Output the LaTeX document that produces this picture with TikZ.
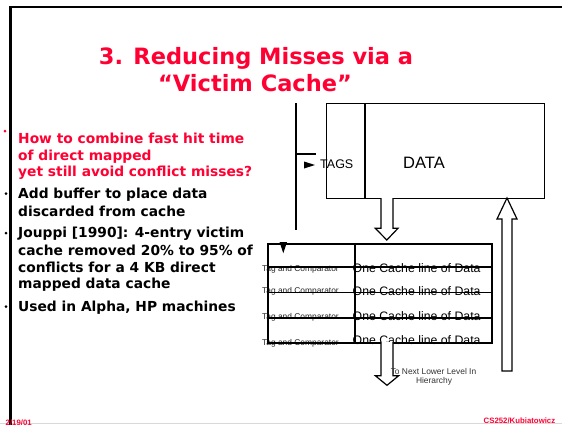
\documentclass[tikz,border=0pt]{standalone}
\usepackage{fontspec}
\setmainfont{DejaVu Sans}
\newfontfamily\arialfont{Liberation Sans}
\definecolor{slidered}{RGB}{255,0,51}
\begin{document}
\begin{tikzpicture}[x=1pt,y=-1pt,
  titletext/.style={anchor=base, inner sep=0, text=slidered, font=\fontsize{22.5}{27}\selectfont\bfseries},
  bodytext/.style={anchor=base west, inner sep=0, font=\fontsize{13.8}{16}\selectfont\bfseries},
  redtext/.style={bodytext, text=slidered},
  bulletdot/.style={circle, fill, inner sep=0, minimum size=3pt},
  frameline/.style={line width=2.6pt},
  boxline/.style={line width=1.3pt},
  rowline/.style={line width=1.6pt},
  hollow/.style={draw, line width=1.2pt, fill=white, line join=miter},
  smalltext/.style={anchor=base west, inner sep=0, font=\arialfont\fontsize{8.4}{9}\selectfont, text=black!85},
  celltext/.style={anchor=base west, inner sep=0, font=\arialfont\fontsize{12.3}{13}\selectfont},
  foottext/.style={anchor=base west, inner sep=0, text=slidered, font=\arialfont\fontsize{7.8}{8}\selectfont\bfseries}
]
\useasboundingbox (0,0) rectangle (562,424);
\clip (0,0) rectangle (562,424);
\fill[white] (0,0) rectangle (562,424);
\draw[black!15, line width=0.8pt] (0,423.6) -- (562,423.6);
% frame
\draw[frameline] (10.5,425) -- (10.5,7) -- (563,7);

% title
\node[titletext] (t1) at (256,64) {3. Reducing Misses via a};
\node[titletext] (t2) at (255,91.7) {“Victim Cache”};

% bullets
\node[bulletdot, fill=slidered] (b1) at (5,131) {};
\node[redtext] (l1) at (18,143.5) {How to combine fast hit time};
\node[redtext] (l2) at (18,160.5) {of direct mapped};
\node[redtext] (l3) at (18,176) {yet still avoid conflict misses?};
\node[bulletdot] (b2) at (6,193.5) {};
\node[bodytext] (l4) at (18,198) {Add buffer to place data};
\node[bodytext] (l5) at (18,216) {discarded from cache};
\node[bulletdot] (b3) at (6,233) {};
\node[bodytext] (l6) at (18,237) {Jouppi [1990]: 4-entry victim};
\node[bodytext] (l7) at (18,255) {cache removed 20\% to 95\% of};
\node[bodytext] (l8) at (18,272) {conflicts for a 4 KB direct};
\node[bodytext] (l9) at (18,288.5) {mapped data cache};
\node[bulletdot] (b4) at (6,306.5) {};
\node[bodytext] (l10) at (18,311) {Used in Alpha, HP machines};

% address bus
\coordinate (bustop) at (296,103);
\coordinate (busbot) at (296,230);
\coordinate (busbranch) at (296,154);
\coordinate (branchend) at (316,154);
\draw[line width=2pt] (bustop) -- (busbot);
\draw[line width=2pt] (busbranch) -- (branchend);
\fill (304,161.5) -- (315,165) -- (304,168.5) -- cycle;

% main cache
\node[draw, boxline, minimum width=218pt, minimum height=95pt, inner sep=0, anchor=north west] (cache) at (326,103) {};
\draw[boxline] (365,103) -- (365,198);
\node[anchor=base west, inner sep=0, font=\arialfont\fontsize{12.5}{13}\selectfont] (tags) at (320,168.3) {TAGS};
\node[anchor=base west, inner sep=0, font=\arialfont\fontsize{16.5}{17}\selectfont] (data) at (403,168.3) {DATA};

% hollow arrow cache -> victim
\draw[hollow] (381,198) -- (381,228.3) -- (375.3,228.3) -- (386.8,240) -- (398,228.3) -- (393,228.3) -- (393,198);

% hollow arrow from below -> cache
\draw[hollow] (507,198) -- (517,219) -- (512,219) -- (512,371) -- (502,371) -- (502,219) -- (497,219) -- cycle;

% victim cache table text (drawn first, lines over it)
\foreach \yy [count=\i] in {271,293,319,345}{
  \node[smalltext] (tag\i) at (262,\yy) {Tag and Comparator};
}
\foreach \yy [count=\i] in {272,295.5,320.5,344.5}{
  \node[celltext] (line\i) at (352.5,\yy) {One Cache line of Data};
}
\node[draw, rowline, minimum width=224pt, minimum height=99pt, inner sep=0, anchor=north west] (victim) at (267,243) {};
\draw[rowline] (267,267) -- (491,267);
\draw[rowline] (267,292.3) -- (491,292.3);
\draw[rowline] (267,317.7) -- (491,317.7);
\draw[rowline] (355,243) -- (355,342);
\fill (279.5,242) -- (287,242) -- (283.3,253.3) -- cycle;

% hollow arrow victim -> lower level
\draw[hollow] (381,342) -- (381,375.7) -- (375.3,375.7) -- (387,385.3) -- (398.7,375.7) -- (393,375.7) -- (393,342);
\node[anchor=base, inner sep=0, font=\arialfont\fontsize{8.4}{9}\selectfont, text=black!80] (nl1) at (433.5,374) {To Next Lower Level In};
\node[anchor=base, inner sep=0, font=\arialfont\fontsize{8.4}{9}\selectfont, text=black!80] (nl2) at (434,383.5) {Hierarchy};

% footer
\node[foottext] (foot) at (483.5,423.8) {CS252/Kubiatowicz};
\node[foottext] (date) at (5.5,425) {2/19/01};
\end{tikzpicture}
\end{document}
